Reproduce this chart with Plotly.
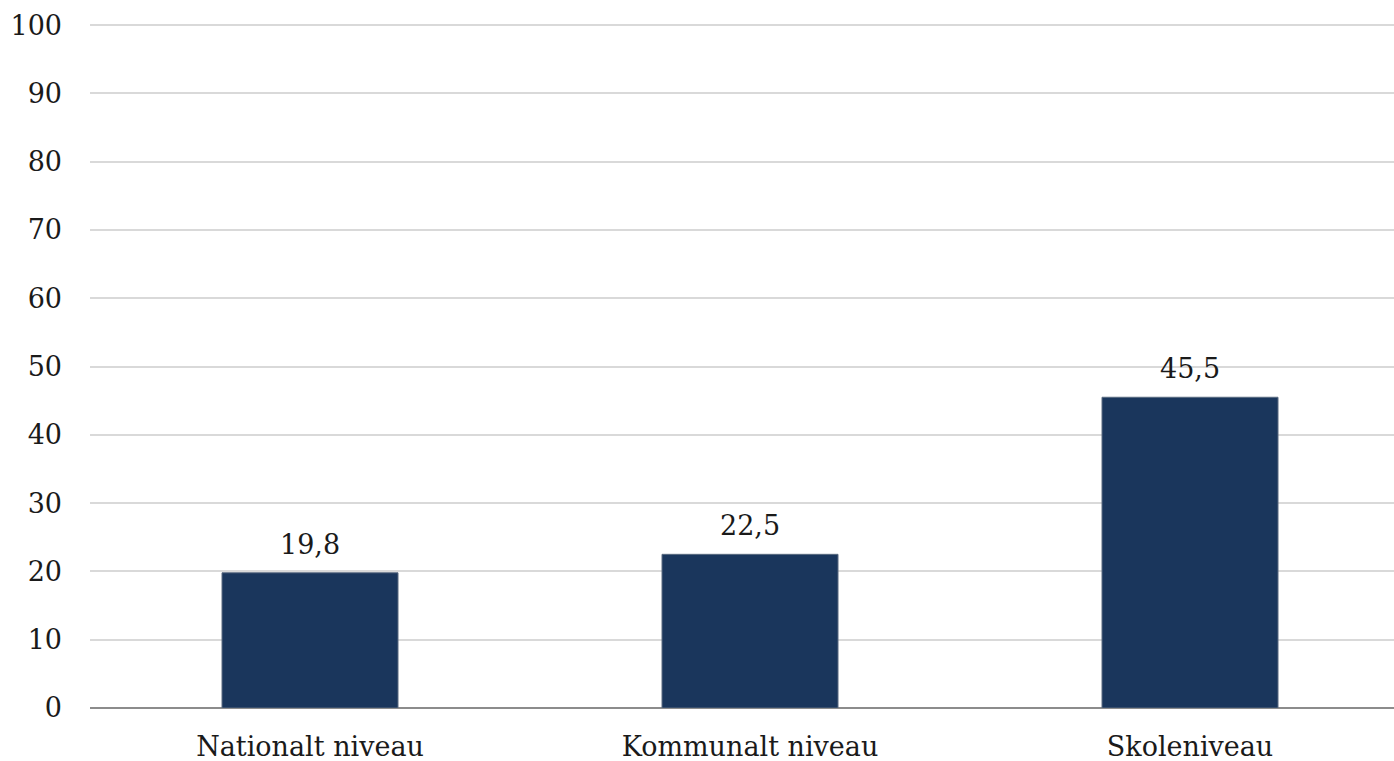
import plotly.graph_objects as go

categories = ["Nationalt niveau", "Kommunalt niveau", "Skoleniveau"]
values = [19.8, 22.5, 45.5]
y_ticks = [0, 10, 20, 30, 40, 50, 60, 70, 80, 90, 100]

FONT = "DejaVu Serif"
FONT_SIZE = 27
BAR_COLOR = "#1a365c"

fig = go.Figure(
    go.Bar(
        x=categories,
        y=values,
        width=0.4,
        marker=dict(color=BAR_COLOR, line=dict(color="#5a6b80", width=1)),
        hoverinfo="skip",
    )
)

# value labels above each bar, with decimal comma
for c, v in zip(categories, values):
    fig.add_annotation(
        x=c, y=v, text=f"{v:.1f}".replace(".", ","),
        showarrow=False, yanchor="bottom", yshift=11,
        font=dict(family=FONT, size=FONT_SIZE, color="#1a1a1a"),
    )

fig.update_layout(
    width=1394, height=761,
    margin=dict(l=90, r=0, t=23, b=53),
    paper_bgcolor="white", plot_bgcolor="white",
    showlegend=False,
    font=dict(family=FONT, size=FONT_SIZE, color="#1a1a1a"),
)
fig.update_xaxes(
    range=[-0.5, 2.4636],
    showgrid=False, ticks="", showline=False,
    ticklabelstandoff=20,
    tickfont=dict(family=FONT, size=FONT_SIZE, color="#1a1a1a"),
)
fig.update_yaxes(
    range=[0, 100.3], tickvals=y_ticks, ticktext=[str(t) for t in y_ticks],
    showgrid=True, gridcolor="#d9d9d9", gridwidth=2,
    zeroline=True, zerolinecolor="#8c8c8c", zerolinewidth=2,
    showline=False, ticks="", ticklabelstandoff=27,
    tickfont=dict(family=FONT, size=FONT_SIZE, color="#1a1a1a"),
)

fig.write_html("out.html")
